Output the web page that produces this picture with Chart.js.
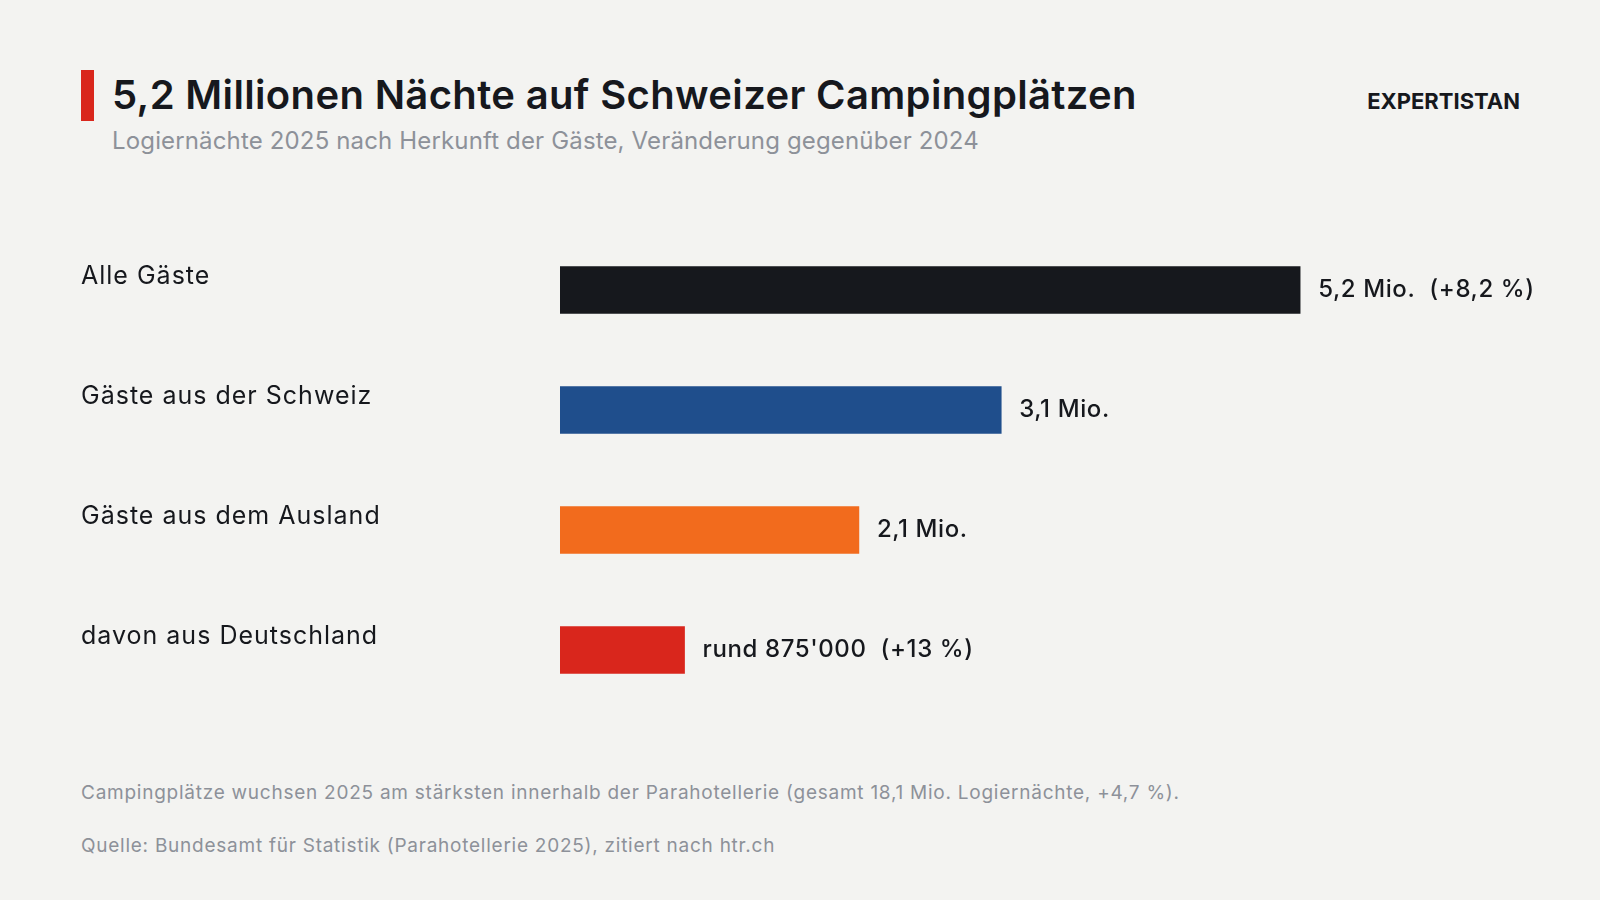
<!DOCTYPE html>
<html>
<head>
<meta charset="utf-8">
<script src="https://cdn.jsdelivr.net/npm/chart.js@4"></script>
<style>
  body { margin: 0; width: 1600px; height: 900px; background: #f3f3f1; font-family: Inter, "Noto Sans", sans-serif; position: relative; overflow: hidden; }
  .accent { position: absolute; left: 81px; top: 70px; width: 13px; height: 51px; background: #d9261c; }
  h1 { position: absolute; left: 112px; top: 70px; margin: 0; font-size: 40px; font-weight: 600; color: #16181d; letter-spacing: 0.35px; }
  .sub { position: absolute; left: 112px; top: 126px; font-size: 24px; color: #8d9199; letter-spacing: 0.15px; }
  .brand { position: absolute; right: 80px; top: 88px; font-size: 22px; font-weight: 700; color: #16181d; }
  .note { position: absolute; left: 81px; font-size: 19px; color: #8d9199; letter-spacing: 0.75px; }
  #wrap { position: absolute; left: 0; top: 230px; width: 1600px; height: 480px; }
</style>
</head>
<body>
<div class="accent"></div>
<h1>5,2 Millionen Nächte auf Schweizer Campingplätzen</h1>
<div class="sub">Logiernächte 2025 nach Herkunft der Gäste, Veränderung gegenüber 2024</div>
<div class="brand">EXPERTISTAN</div>
<div id="wrap"><canvas id="myChart"></canvas></div>
<div class="note" style="top:781px">Campingplätze wuchsen 2025 am stärksten innerhalb der Parahotellerie (gesamt 18,1 Mio. Logiernächte, +4,7 %).</div>
<div class="note" style="top:834px">Quelle: Bundesamt für Statistik (Parahotellerie 2025), zitiert nach htr.ch</div>
<script>
const categories = ["Alle Gäste", "Gäste aus der Schweiz", "Gäste aus dem Ausland", "davon aus Deutschland"];
const values = [5.2, 3.1, 2.1, 0.875];
const valueLabels = ["5,2 Mio.  (+8,2 %)", "3,1 Mio.", "2,1 Mio.", "rund 875'000  (+13 %)"];
const colors = ["#16181d", "#1f4e8c", "#f26b1d", "#d9261c"];

const labelPlugin = {
  id: "labels",
  afterDatasetsDraw(chart) {
    const ctx = chart.ctx;
    const meta = chart.getDatasetMeta(0);
    ctx.save();
    ctx.textBaseline = "middle";
    ctx.textAlign = "left";
    meta.data.forEach((bar, i) => {
      ctx.fillStyle = "#16181d";
      ctx.font = "400 25px Inter, 'Noto Sans', sans-serif";
      ctx.letterSpacing = "1px";
      ctx.fillText(categories[i], 81, bar.y - 14);
      ctx.font = "500 24px Inter, 'Noto Sans', sans-serif";
      ctx.letterSpacing = "0.6px";
      ctx.fillText(valueLabels[i], bar.x + 18, bar.y);
    });
    ctx.restore();
  },
};

new Chart(document.getElementById("myChart"), {
  type: "bar",
  data: {
    labels: categories,
    datasets: [{ data: values, backgroundColor: colors, barThickness: 47 }],
  },
  options: {
    indexAxis: "y",
    responsive: true,
    maintainAspectRatio: false,
    animation: false,
    layout: { padding: { left: 560, right: 186, top: 0, bottom: 0 } },
    scales: {
      x: { display: false, min: 0, max: 6 },
      y: { display: false },
    },
    plugins: { legend: { display: false }, tooltip: { enabled: false } },
  },
  plugins: [labelPlugin],
});
</script>
</body>
</html>
